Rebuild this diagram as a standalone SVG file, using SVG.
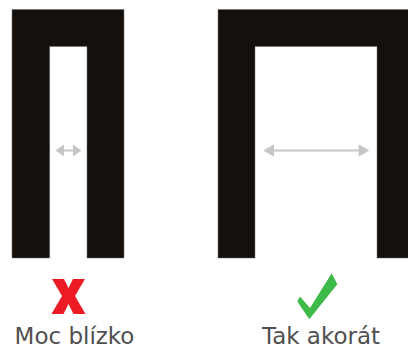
<svg xmlns="http://www.w3.org/2000/svg" width="408" height="349" viewBox="0 0 408 349">
<style>
.frame{fill:#15100c;stroke:#6e6e6e;stroke-width:0.5}
.shaft{stroke:#c6c6c6;stroke-width:2;fill:none}
.head{fill:#c6c6c6}
.lbl{font-family:"DejaVu Sans",sans-serif;font-size:23px;fill:#4f4f4f;text-anchor:middle}
</style>
<rect width="408" height="349" fill="#ffffff"/>
<g id="narrow">
<path class="frame" d="M12,9.5 H124 V258 H87 V46.5 H49.7 V258 H12 Z"/>
</g>
<g id="wide">
<path class="frame" d="M218,9.5 H408.5 V258 H377 V46.5 H255 V258 H218 Z"/>
</g>
<g id="connectors">
<line class="shaft" x1="60" y1="150.5" x2="77" y2="150.5"/>
<polygon class="head" points="55.5,150.5 64,144.5 64,156.5"/>
<polygon class="head" points="81.5,150.5 73,144.5 73,156.5"/>
<line class="shaft" x1="270" y1="150.5" x2="363" y2="150.5"/>
<polygon class="head" points="263.3,150.5 274,144.3 274,156.7"/>
<polygon class="head" points="369.3,150.5 358.7,144.3 358.7,156.7"/>
</g>
<g id="bad">
<polygon fill="#ed1c24" points="52,279 64,279 68.5,288 73,279 85,279 75,296 85.5,314 73.5,314 68.5,304 63.5,314 51.5,314 62,296"/>
<text class="lbl" x="74.5" y="344">Moc blízko</text>
</g>
<g id="good">
<polygon fill="#3dba47" points="297.3,301.5 300,296.5 310,308 331.7,273.3 337.3,284.3 309.3,319.3"/>
<text class="lbl" x="321" y="344">Tak akorát</text>
</g>
</svg>
